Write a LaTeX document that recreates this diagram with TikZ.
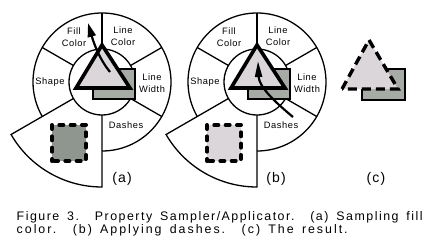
\documentclass[tikz,border=0pt]{standalone}
\usepackage{fontspec}
\setmainfont{Liberation Sans}
\newfontfamily\labfont[LetterSpace=6]{Liberation Sans}
\newfontfamily\bigfont[LetterSpace=8]{Liberation Sans}
\newfontfamily\capfont[LetterSpace=12]{Liberation Sans}
\newfontfamily\capfontb[LetterSpace=16]{Liberation Sans}
\usetikzlibrary{arrows.meta}
\definecolor{trifill}{RGB}{218,214,218}
\definecolor{sqfill}{RGB}{166,171,166}
\definecolor{wellfill}{RGB}{143,149,143}
\tikzset{
  ring/.style={line width=1.3pt},
  lab/.style={font=\labfont\fontsize{9.3}{12}\selectfont, align=center, inner sep=0pt},
  sublab/.style={font=\bigfont\fontsize{14}{16}\selectfont, inner sep=0pt},
  capn/.style={font=\capfont\fontsize{12.4}{13}\selectfont, inner sep=0pt, anchor=base west},
  capm/.style={font=\capfontb\fontsize{12.4}{13}\selectfont, inner sep=0pt, anchor=base west},
  sqstyle/.style={draw, line width=1.2pt, fill=sqfill},
  tristyle/.style={draw, line width=3.6pt, miter limit=10, fill=trifill},
  wellsq/.style={draw, line width=4pt, line cap=round, dash pattern=on 4pt off 7.33pt, dash phase=2pt},
  arr/.style={line width=2.2pt},
}
\newcommand\widget[3]{%
\begin{scope}[shift={(#2,165)}]
  \draw[ring] (-90:69) arc[start angle=-90,end angle=210,radius=69];
  \draw[ring] (0,0) circle[radius=33];
  \foreach \a in {-30,30,90,150} \draw[ring] (\a:33) -- (\a:69);
  \draw[ring] (210:33) -- (210:105) arc[start angle=210,end angle=270,radius=105] -- (270:33);
  \node[lab] (#1fill) at (-28,45) {Fill\\Color};
  \node[lab] (#1lcol) at (21,46) {Line\\Color};
  \node[lab] (#1lwid) at (50,-1) {Line\\Width};
  \node[lab] (#1shape) at (-52,0) {Shape};
  \node[lab] (#1dash) at (24,-43) {Dashes};
  \fill[#3] (-50,-79) rectangle (-16,-43);
  \draw[wellsq] (-50,-79) rectangle (-16,-43);
  \draw[sqstyle] (-9,-17) rectangle (33,13);
  \draw[tristyle] (-26,-6) -- (28,-6) -- (0,37) -- cycle;
\end{scope}}
\begin{document}
\begin{tikzpicture}[x=1pt,y=1pt]
\useasboundingbox (0,0) rectangle (433,247);
\widget{a}{102}{wellfill}
\widget{b}{257}{trifill}
% result (c)
\draw[sqstyle] (362,147) rectangle (405,178);
\fill[trifill] (342,158) -- (398,158) -- (369,207) -- cycle;
\draw[line width=3.4pt, dash pattern=on 9pt off 5pt] (342,158) -- (369,207) -- (398,158) -- cycle;
% arrows
\coordinate (aS) at (110,175);
\coordinate (aT) at (88,224);
\draw[arr, -{Triangle[length=14pt,width=8pt]}] (aS) .. controls (100,187) and (94,203) .. (aT);
\coordinate (bS) at (293,130);
\coordinate (bT) at (258,186);
\draw[arr, -{Triangle[length=16pt,width=7pt]}] (bS) .. controls (275,145) and (259,160) .. (bT);
% sub labels
\node[sublab] (la) at (122,68) {(a)};
\node[sublab] (lb) at (276,68) {(b)};
\node[sublab] (lc) at (376,68) {(c)};
% caption
\node[capn] (cap1) at (16.5,27) {\makebox[406pt][s]{Figure 3.\ \ Property Sampler/Applicator.\ \ (a) Sampling fill}};
\node[capm] (cap2) at (16.5,14) {\makebox[331pt][s]{color.\ \ (b) Applying dashes.\ \ (c) The result.}};
\end{tikzpicture}
\end{document}
